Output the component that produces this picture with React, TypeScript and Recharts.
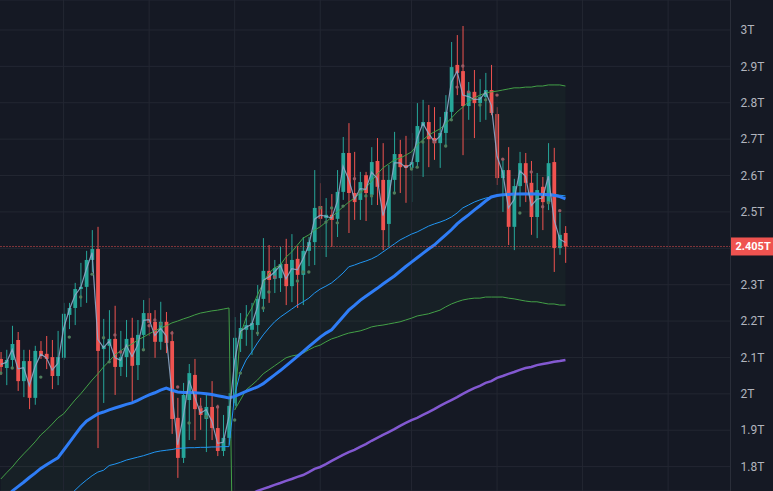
import {
  ComposedChart,
  Bar,
  Line,
  Area,
  XAxis,
  YAxis,
  CartesianGrid,
  ReferenceLine,
} from "recharts";

// candles, in trillions
const opens = [
  2.096, 2.071, 2.093, 2.148, 2.035, 2.09, 1.989, 2.118, 2.11, 2.101,
  2.049, 2.099, 2.217, 2.236, 2.288, 2.294, 2.368, 2.398, 2.123, 2.132,
  2.151, 2.074, 2.101, 2.154, 2.079, 2.162, 2.222, 2.198, 2.143, 2.198,
  2.145, 1.934, 1.824, 1.983, 2.052, 1.961, 1.931, 1.964, 1.906, 1.843,
  1.879, 1.967, 2.151, 2.176, 2.176, 2.189, 2.261, 2.338, 2.316, 2.318,
  2.357, 2.296, 2.371, 2.327, 2.393, 2.417, 2.516, 2.483, 2.492, 2.481,
  2.555, 2.662, 2.552, 2.533, 2.601, 2.547, 2.64, 2.588, 2.467, 2.588,
  2.659, 2.629, 2.621, 2.637, 2.736, 2.747, 2.703, 2.689, 2.717, 2.775,
  2.904, 2.887, 2.791, 2.83, 2.799, 2.816, 2.835, 2.769, 2.593, 2.615,
  2.459, 2.571, 2.634, 2.58, 2.486, 2.569, 2.527, 2.637, 2.401, 2.442,
];
const highs = [
  2.115, 2.121, 2.187, 2.17, 2.121, 2.121, 2.132, 2.145, 2.159, 2.148,
  2.173, 2.25, 2.25, 2.305, 2.36, 2.393, 2.45, 2.459, 2.206, 2.23,
  2.242, 2.173, 2.203, 2.209, 2.203, 2.258, 2.263, 2.23, 2.253, 2.225,
  2.173, 1.989, 2.03, 2.082, 2.096, 1.989, 1.997, 2.035, 1.97, 1.942,
  2.002, 2.211, 2.222, 2.244, 2.25, 2.299, 2.428, 2.409, 2.368, 2.404,
  2.426, 2.439, 2.406, 2.431, 2.431, 2.615, 2.579, 2.538, 2.549, 2.615,
  2.706, 2.744, 2.665, 2.61, 2.61, 2.678, 2.703, 2.689, 2.629, 2.72,
  2.698, 2.709, 2.717, 2.799, 2.808, 2.794, 2.788, 2.761, 2.821, 2.967,
  2.986, 3.011, 2.857, 2.89, 2.865, 2.882, 2.904, 2.788, 2.645, 2.678,
  2.591, 2.665, 2.662, 2.64, 2.607, 2.596, 2.689, 2.676, 2.497, 2.461,
];
const lows = [
  2.052, 2.024, 2.071, 2.008, 1.991, 1.958, 1.97, 2.096, 2.068, 2.013,
  2.024, 2.093, 2.178, 2.189, 2.239, 2.25, 2.335, 1.851, 1.975, 2.088,
  1.997, 2.049, 2.046, 1.975, 2.038, 2.121, 2.159, 2.099, 2.121, 2.112,
  1.89, 1.769, 1.81, 1.873, 1.873, 1.901, 1.84, 1.873, 1.829, 1.829,
  1.86, 1.956, 2.115, 2.132, 2.107, 2.159, 2.225, 2.25, 2.277, 2.28,
  2.244, 2.252, 2.236, 2.244, 2.351, 2.354, 2.459, 2.376, 2.404, 2.431,
  2.533, 2.442, 2.478, 2.478, 2.475, 2.519, 2.519, 2.395, 2.404, 2.552,
  2.552, 2.525, 2.527, 2.623, 2.596, 2.623, 2.643, 2.621, 2.678, 2.753,
  2.821, 2.656, 2.753, 2.703, 2.747, 2.753, 2.766, 2.574, 2.5, 2.409,
  2.395, 2.514, 2.527, 2.437, 2.428, 2.45, 2.505, 2.335, 2.382, 2.36,
];
const closes = [
  2.074, 2.093, 2.137, 2.035, 2.09, 1.989, 2.118, 2.104, 2.096, 2.049,
  2.101, 2.22, 2.236, 2.288, 2.294, 2.368, 2.398, 2.118, 2.132, 2.151,
  2.074, 2.101, 2.151, 2.077, 2.162, 2.222, 2.195, 2.143, 2.198, 2.14,
  1.931, 1.824, 1.997, 2.057, 1.958, 1.942, 1.964, 1.906, 1.843, 1.879,
  1.967, 2.154, 2.181, 2.189, 2.195, 2.261, 2.338, 2.313, 2.346, 2.357,
  2.296, 2.368, 2.327, 2.393, 2.417, 2.511, 2.481, 2.492, 2.478, 2.555,
  2.662, 2.552, 2.527, 2.582, 2.552, 2.637, 2.569, 2.45, 2.588, 2.659,
  2.623, 2.621, 2.637, 2.736, 2.747, 2.7, 2.689, 2.717, 2.775, 2.898,
  2.882, 2.791, 2.83, 2.799, 2.816, 2.835, 2.772, 2.593, 2.615, 2.459,
  2.571, 2.634, 2.58, 2.486, 2.56, 2.527, 2.634, 2.401, 2.437, 2.405,
];

// short moving average (thin grey-blue)
const fastMa = [
  2.081, 2.087, 2.122, 2.069, 2.072, 2.023, 2.075, 2.109, 2.099, 2.065,
  2.084, 2.18, 2.231, 2.271, 2.292, 2.343, 2.388, 2.15, 2.127, 2.145,
  2.1, 2.092, 2.134, 2.102, 2.134, 2.202, 2.204, 2.16, 2.18, 2.159,
  2.001, 1.86, 1.939, 2.037, 1.991, 1.947, 1.957, 1.925, 1.864, 1.867,
  1.938, 2.092, 2.172, 2.183, 2.191, 2.239, 2.312, 2.321, 2.335, 2.353,
  2.316, 2.344, 2.341, 2.371, 2.409, 2.48, 2.491, 2.488, 2.483, 2.529,
  2.626, 2.589, 2.535, 2.564, 2.562, 2.609, 2.592, 2.49, 2.542, 2.635,
  2.635, 2.622, 2.632, 2.703, 2.743, 2.716, 2.693, 2.708, 2.756, 2.857,
  2.887, 2.821, 2.817, 2.809, 2.81, 2.829, 2.793, 2.653, 2.608, 2.511,
  2.534, 2.613, 2.598, 2.517, 2.535, 2.538, 2.598, 2.479, 2.425, 2.416,
];

// thick blue moving average
const slowMa = [
  1.7, 1.715, 1.733, 1.745, 1.757, 1.77, 1.782, 1.795, 1.805, 1.815,
  1.824, 1.845, 1.866, 1.887, 1.908, 1.925, 1.935, 1.945, 1.95, 1.956,
  1.961, 1.966, 1.971, 1.975, 1.982, 1.99, 1.997, 2.003, 2.01, 2.016,
  2.01, 2.005, 2.004, 2.004, 2.003, 2.002, 2.0, 1.998, 1.995, 1.992,
  1.989, 1.993, 2.0, 2.007, 2.013, 2.019, 2.028, 2.04, 2.052, 2.064,
  2.077, 2.09, 2.103, 2.116, 2.13, 2.143, 2.156, 2.167, 2.176, 2.194,
  2.212, 2.23, 2.243, 2.257, 2.268, 2.279, 2.29, 2.302, 2.313, 2.324,
  2.337, 2.35, 2.362, 2.374, 2.386, 2.398, 2.409, 2.423, 2.437, 2.451,
  2.467, 2.48, 2.492, 2.505, 2.517, 2.53, 2.541, 2.545, 2.547, 2.548,
  2.549, 2.549, 2.549, 2.549, 2.549, 2.548, 2.547, 2.546, 2.542, 2.536,
];

// anchored vwap (thin blue), resets at bar 41
const vwapLine = [
  1.58, 1.59, 1.6, 1.61, 1.62, 1.63, 1.64, 1.65, 1.66, 1.675,
  1.69, 1.705, 1.72, 1.735, 1.75, 1.763, 1.775, 1.785, 1.79, 1.803,
  1.807, 1.812, 1.818, 1.822, 1.826, 1.83, 1.835, 1.84, 1.843, 1.845,
  1.847, 1.85, 1.851, 1.852, 1.852, 1.853, 1.853, 1.854, 1.854, 1.855,
  1.855, 1.997, 2.06, 2.093, 2.115, 2.14, 2.162, 2.181, 2.198, 2.211,
  2.222, 2.233, 2.244, 2.253, 2.263, 2.277, 2.288, 2.296, 2.305, 2.318,
  2.332, 2.349, 2.354, 2.36, 2.365, 2.371, 2.379, 2.39, 2.401, 2.412,
  2.423, 2.431, 2.439, 2.445, 2.453, 2.461, 2.467, 2.472, 2.478, 2.486,
  2.497, 2.511, 2.519, 2.527, 2.533, 2.538, 2.541, 2.544, 2.547, 2.549,
  2.55, 2.551, 2.551, 2.551, 2.551, 2.55, 2.55, 2.548, 2.546, 2.544,
];

// upper band of the previous anchor period (bars 0..41)
const prevUpper = [
  1.766, 1.783, 1.799, 1.818, 1.835, 1.851, 1.868, 1.887, 1.901, 1.917,
  1.934, 1.945, 1.964, 1.983, 2.0, 2.019, 2.038, 2.055, 2.074, 2.09,
  2.107, 2.118, 2.129, 2.137, 2.148, 2.156, 2.165, 2.173, 2.181, 2.187,
  2.195, 2.2, 2.206, 2.211, 2.217, 2.222, 2.225, 2.228, 2.23, 2.233,
  2.236, 1.18,
];

// bands of the current period, starting at bar 41
const BAND_START = 41;
const upperBand = [
  1.975, 2.162, 2.209, 2.236, 2.272, 2.305, 2.332, 2.346, 2.354,
  2.376, 2.39, 2.409, 2.428, 2.437, 2.45, 2.459, 2.472, 2.486, 2.5,
  2.514, 2.527, 2.538, 2.552, 2.566, 2.585, 2.604, 2.621, 2.632, 2.643,
  2.648, 2.656, 2.665, 2.684, 2.698, 2.711, 2.72, 2.728, 2.742, 2.758,
  2.775, 2.788, 2.802, 2.813, 2.821, 2.827, 2.83, 2.832, 2.835, 2.838,
  2.841, 2.841, 2.843, 2.843, 2.846, 2.846, 2.849, 2.849, 2.849, 2.846,
];
const lowerBand = [
  1.956, 1.983, 2.011, 2.024, 2.038, 2.055, 2.066, 2.077, 2.088,
  2.099, 2.104, 2.107, 2.112, 2.121, 2.129, 2.134, 2.143, 2.151, 2.156,
  2.162, 2.167, 2.17, 2.173, 2.178, 2.184, 2.187, 2.189, 2.192, 2.195,
  2.198, 2.203, 2.208, 2.214, 2.217, 2.22, 2.225, 2.23, 2.239, 2.247,
  2.253, 2.258, 2.261, 2.263, 2.263, 2.266, 2.266, 2.266, 2.266, 2.263,
  2.261, 2.258, 2.255, 2.253, 2.253, 2.25, 2.247, 2.247, 2.244, 2.244,
];

// long moving average (purple), visible from bar 44
const LONG_START = 44;
const longMa = [
  1.726, 1.733, 1.739, 1.744, 1.75, 1.755, 1.761, 1.766, 1.772, 1.777,
  1.785, 1.794, 1.799, 1.807, 1.816, 1.824, 1.832, 1.84, 1.846, 1.854,
  1.862, 1.871, 1.879, 1.887, 1.895, 1.903, 1.912, 1.92, 1.928, 1.934,
  1.942, 1.95, 1.958, 1.967, 1.975, 1.983, 1.991, 2.0, 2.008, 2.016,
  2.022, 2.03, 2.035, 2.044, 2.049, 2.055, 2.06, 2.066, 2.071, 2.074,
  2.079, 2.082, 2.085, 2.088, 2.09, 2.093,
];

// small marker dots: [bar, price]
const greenDots = [
  [0, 2.057], [2, 2.071], [7, 2.046], [12, 2.156], [14, 2.266], [16, 2.329],
  [18, 2.154], [19, 2.088], [25, 2.121], [28, 2.192], [33, 1.92], [36, 1.937],
  [41, 1.928], [42, 2.057], [45, 2.167], [46, 2.236], [47, 2.28], [52, 2.31],
  [53, 2.335], [54, 2.335], [56, 2.511], [57, 2.472], [58, 2.511], [59, 2.47],
  [60, 2.516], [63, 2.555], [64, 2.544], [65, 2.544], [69, 2.552], [72, 2.618],
  [73, 2.623], [74, 2.692], [78, 2.681], [79, 2.753], [84, 2.794], [85, 2.808],
  [91, 2.497], [96, 2.525],
];
const redDots = [
  [20, 2.162], [21, 2.115], [26, 2.187], [27, 2.203], [30, 2.167], [31, 2.019],
  [35, 1.964], [38, 1.964], [48, 2.321], [62, 2.591], [76, 2.692], [80, 2.843],
  [81, 2.901], [82, 2.83], [87, 2.821], [88, 2.645], [93, 2.61], [95, 2.514],
  [98, 2.503],
];

const priceTicks = [1.8, 1.9, 2.0, 2.1, 2.2, 2.3, 2.4, 2.5, 2.6, 2.7, 2.8, 2.9, 3.0];
const timeGrid = [11, 26, 41, 56, 72, 87, 102, 117];
const SLOTS = 128;

const greenMap = new Map(greenDots.map(([i, v]) => [i, v]));
const redMap = new Map(redDots.map(([i, v]) => [i, v]));

const rows = Array.from({ length: SLOTS }, (_, i) => {
  const has = i < closes.length;
  const b = i - BAND_START;
  const inBand = b >= 0 && b < upperBand.length;
  const l = i - LONG_START;
  return {
    i,
    range: has ? [lows[i], highs[i]] : null,
    open: has ? opens[i] : null,
    high: has ? highs[i] : null,
    low: has ? lows[i] : null,
    close: has ? closes[i] : null,
    fast: has ? fastMa[i] : null,
    slow: has ? slowMa[i] : null,
    vwap: has ? vwapLine[i] : null,
    prevUpper: i < prevUpper.length ? prevUpper[i] : null,
    upper: inBand ? upperBand[b] : null,
    lower: inBand ? lowerBand[b] : null,
    band: inBand ? [lowerBand[b], upperBand[b]] : null,
    long: l >= 0 && l < longMa.length ? longMa[l] : null,
    dotG: greenMap.has(i) ? greenMap.get(i) : null,
    dotR: redMap.has(i) ? redMap.get(i) : null,
  };
});

const lastClose = closes[closes.length - 1];
const FONT = "Roboto, 'Liberation Sans', sans-serif";

const Candle = (props: any) => {
  const { x, y, width, height, payload } = props;
  if (payload.open == null || !height) return null;
  const { open, close, high, low } = payload;
  const k = height / (high - low);
  const cx = x + width / 2;
  const yo = y + (high - open) * k;
  const yc = y + (high - close) * k;
  const color = close >= open ? "#26a69a" : "#ef5350";
  return (
    <g>
      <line x1={cx} x2={cx} y1={y} y2={y + height} stroke={color} strokeWidth={1} />
      <rect
        x={cx - 1.9}
        y={Math.min(yo, yc)}
        width={3.8}
        height={Math.max(Math.abs(yo - yc), 1)}
        fill={color}
      />
    </g>
  );
};

const PriceTag = (props: any) => {
  const { x, y, width } = props.viewBox;
  const left = x + width;
  return (
    <g>
      <rect x={left} y={y - 9} width={48} height={18} fill="#ef5350" />
      <text x={left + 5} y={y + 4} fill="#ffffff" fontSize={11} fontWeight={700} fontFamily={FONT}>
        {`${lastClose}T`}
      </text>
    </g>
  );
};

const lineProps = {
  dot: false as const,
  activeDot: false as const,
  type: "linear" as const,
  isAnimationActive: false,
};

export default function App() {
  return (
    <div
      style={{
        position: "fixed",
        left: 0,
        top: 0,
        width: 773,
        height: 491,
        overflow: "hidden",
        background: "#151924",
      }}
    >
      <div style={{ position: "absolute", left: -2.5, top: 0 }}>
        <ComposedChart
          width={775.5}
          height={491}
          data={rows}
          margin={{ top: 0, right: 0, bottom: 0, left: 0 }}
        >
          <CartesianGrid stroke="#232732" vertical={false} />
          <XAxis dataKey="i" hide padding={{ left: 0, right: 2.5 }} />
          <YAxis
            orientation="right"
            width={43}
            domain={[1.733, 3.0824]}
            allowDataOverflow
            ticks={priceTicks}
            interval={0}
            tickLine={false}
            tickMargin={4}
            axisLine={{ stroke: "#2a2e39" }}
            tick={{ fill: "#b2b5be", fontSize: 12, fontFamily: FONT }}
            tickFormatter={(v: number) => (v === 2.4 ? "" : `${+v.toFixed(1)}T`)}
          />
          {timeGrid.map((t) => (
            <ReferenceLine key={t} x={t} stroke="#232732" />
          ))}
          <Area
            dataKey="prevUpper"
            baseValue={1.0}
            stroke="none"
            fill="#4caf50"
            fillOpacity={0.05}
            activeDot={false}
            isAnimationActive={false}
          />
          <Area
            dataKey="band"
            stroke="none"
            fill="#4caf50"
            fillOpacity={0.05}
            activeDot={false}
            isAnimationActive={false}
          />
          <Bar dataKey="range" shape={<Candle />} isAnimationActive={false} />
          <Line dataKey="long" stroke="#8359d1" strokeWidth={2.5} {...lineProps} />
          <Line dataKey="prevUpper" stroke="#43a047" strokeWidth={1} {...lineProps} />
          <Line dataKey="upper" stroke="#43a047" strokeWidth={1} {...lineProps} />
          <Line dataKey="lower" stroke="#43a047" strokeWidth={1} {...lineProps} />
          <Line dataKey="vwap" stroke="#2196f3" strokeWidth={1} {...lineProps} />
          <Line dataKey="slow" stroke="#2f7df6" strokeWidth={3} {...lineProps} />
          <Line dataKey="fast" stroke="#8fa9c9" strokeWidth={1.2} strokeOpacity={0.9} {...lineProps} />
          <Line
            dataKey="dotG"
            stroke="none"
            dot={{ r: 1.7, fill: "#4f7d5c", stroke: "none" }}
            activeDot={false}
            isAnimationActive={false}
          />
          <Line
            dataKey="dotR"
            stroke="none"
            dot={{ r: 1.7, fill: "#9a5a63", stroke: "none" }}
            activeDot={false}
            isAnimationActive={false}
          />
          <ReferenceLine
            y={lastClose}
            stroke="#ef5350"
            strokeDasharray="1 2"
            label={(p: any) => <PriceTag {...p} />}
          />
        </ComposedChart>
      </div>
    </div>
  );
}
